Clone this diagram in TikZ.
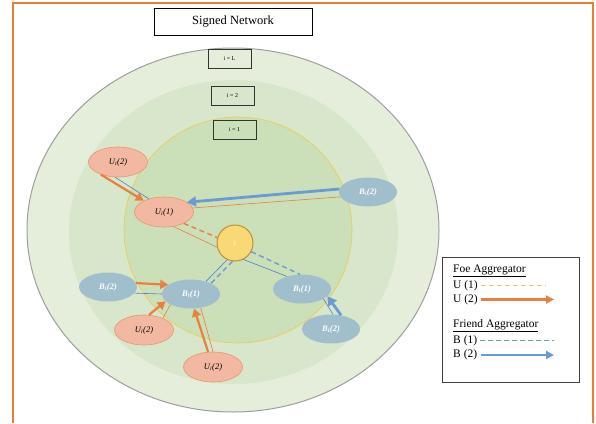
\documentclass[tikz,border=0pt]{standalone}
\usepackage{fontspec}
\setmainfont{Liberation Serif}
\usetikzlibrary{arrows.meta,shapes.geometric}
\definecolor{frameor}{HTML}{ED7D31}
\definecolor{ringA}{HTML}{E4EEDB}
\definecolor{ringB}{HTML}{D8E6CB}
\definecolor{ringC}{HTML}{CBDFB8}
\definecolor{ringline}{HTML}{9E9E9E}
\definecolor{innerline}{HTML}{F2C94C}
\definecolor{ufill}{HTML}{F2B8A2}
\definecolor{uline}{HTML}{E8976E}
\definecolor{bfill}{HTML}{A1BECD}
\definecolor{arror}{HTML}{E8803F}
\definecolor{arrbl}{HTML}{6A9BD6}
\definecolor{thinbl}{HTML}{4F7FC9}
\definecolor{ifill}{HTML}{F9D976}
\definecolor{iline}{HTML}{BF9030}
\definecolor{legdash}{HTML}{F5B94E}
\begin{document}
\begin{tikzpicture}[x=1pt,y=-1pt,
  unode/.style={ellipse,draw=uline,line width=0.6pt,fill=ufill,minimum width=59pt,minimum height=30pt,inner sep=0pt,font=\fontsize{8.5}{10}\selectfont\itshape},
  bnode/.style={ellipse,fill=bfill,minimum width=58pt,minimum height=29pt,inner sep=0pt,text=white,font=\fontsize{8.5}{10}\selectfont\bfseries\itshape},
  lvlbox/.style={draw=black!80,line width=0.5pt,minimum width=43pt,minimum height=19pt,inner sep=0pt,font=\fontsize{6}{7}\selectfont},
  thickor/.style={draw=arror,line width=2.2pt,-{Triangle[length=8pt,width=9pt]}},
  thickbl/.style={draw=arrbl,line width=2.8pt,-{Triangle[length=9pt,width=10pt]}},
  thinor/.style={draw=arror,line width=0.6pt},
  thinbl/.style={draw=thinbl,line width=0.6pt},
  dashor/.style={draw=arror,line width=1.4pt,dash pattern=on 5pt off 3.5pt},
  dashbl/.style={draw=arrbl,line width=1.4pt,dash pattern=on 5pt off 3.5pt},
  legtext/.style={anchor=west,inner sep=0pt,font=\fontsize{11.5}{13}\selectfont}
]
\useasboundingbox (0,0) rectangle (596,423);
% frame
\draw[frameor,line width=1.3pt] (13,423) -- (13,3) -- (593,3) -- (593,423);
% rings
\fill[ringA,draw=ringline,line width=1pt] (233,230) ellipse [x radius=206,y radius=182];
\fill[ringB] (233.5,232) ellipse [x radius=164.5,y radius=152];
\fill[ringC,draw=innerline,line width=0.6pt] (238,230) ellipse [x radius=114,y radius=113];
% title and level boxes
\node[draw=black,line width=1pt,minimum width=158pt,minimum height=27pt,inner sep=0pt,font=\fontsize{12.5}{14}\selectfont] (title) at (233,21.5) {Signed Network};
\node[lvlbox] (lvlL) at (229.5,59) {i = L};
\node[lvlbox] (lvl2) at (232.5,96) {i = 2};
\node[lvlbox] (lvl1) at (234.5,129.5) {i = 1};
% nodes
\node[unode] (u2a) at (118,162) {U\textsubscript{i}(2)};
\node[unode] (u1) at (164,212) {U\textsubscript{i}(1)};
\node[bnode] (b2r) at (368,192) {B\textsubscript{i}(2)};
\node[circle,draw=iline,line width=1pt,fill=ifill,minimum size=36pt,inner sep=0pt,text=white,font=\fontsize{8}{9}\selectfont] (ci) at (235,243) {i};
\node[bnode] (b2l) at (108,287) {B\textsubscript{i}(2)};
\node[bnode] (b1l) at (191,294) {B\textsubscript{i}(1)};
\node[bnode] (b1r) at (302,289) {B\textsubscript{i}(1)};
\node[bnode] (b2lr) at (331,329) {B\textsubscript{i}(2)};
\node[unode] (u2b) at (144,330) {U\textsubscript{i}(2)};
\node[unode] (u2c) at (213,367) {U\textsubscript{i}(2)};
% connectors
\draw[thinbl] (u2a.259) -- (u1.139);
\draw[thickor] (u2a.216) -- (u1.151);
\draw[thinor] (b2r.190) -- (u1.8);
\draw[thickbl] (b2r.174) -- (u1.23);
\draw[dashor] (u1.330) -- (ci.163);
\draw[thinor] (u1.303) -- (ci.193);
\draw[dashbl] (ci.262) -- (b1l.28);
\draw[thinbl] (ci.245) -- (b1l.40);
\draw[dashbl] (ci.332) -- (b1r.98);
\draw[thinbl] (ci.297) -- (b1r.140);
\draw[thinbl] (b2l.347) -- (b1l.180);
\draw[thickor] (b2l.8) -- (b1l.158);
\draw[thinor] (u2b.32) -- (b1l.207);
\draw[thickor] (u2b.72) -- (b1l.196);
\draw[thinor] (u2c.90) -- (b1l.305);
\draw[thickor] (u2c.108) -- (b1l.282);
\draw[thinbl] (b2lr.82) -- (b1r.335);
\draw[thickbl] (b2lr.54) -- (b1r.344);
% legend
\node[draw=black!75,line width=0.6pt,minimum width=137pt,minimum height=125pt,inner sep=0pt] (legend) at (510.5,319.5) {};
\node[legtext] (lfoe) at (453,271) {\underline{Foe Aggregator}};
\node[legtext] (lu1) at (453,285.5) {U (1)};
\node[legtext] (lu2) at (453,299.5) {U (2)};
\node[legtext] (lfr) at (453,326) {\underline{Friend Aggregator}};
\node[legtext] (lb1) at (453,340.5) {B (1)};
\node[legtext] (lb2) at (453,355) {B (2)};
\coordinate (eu1) at (546,285.5);
\coordinate (eu2) at (554,299.5);
\coordinate (eb1) at (554,340.5);
\coordinate (eb2) at (554,355);
\draw[draw=legdash,line width=1pt,dash pattern=on 4.5pt off 3.5pt] ([xshift=3pt]lu1.east) -- (eu1);
\draw[draw=arror,line width=2.2pt,-{Triangle[length=8pt,width=8pt]}] ([xshift=3pt]lu2.east) -- (eu2);
\draw[draw=arrbl,line width=1pt,dash pattern=on 4.5pt off 3.5pt] ([xshift=3pt]lb1.east) -- (eb1);
\draw[draw=arrbl,line width=2.2pt,-{Triangle[length=8pt,width=8pt]}] ([xshift=4pt]lb2.east) -- (eb2);
\end{tikzpicture}
\end{document}
